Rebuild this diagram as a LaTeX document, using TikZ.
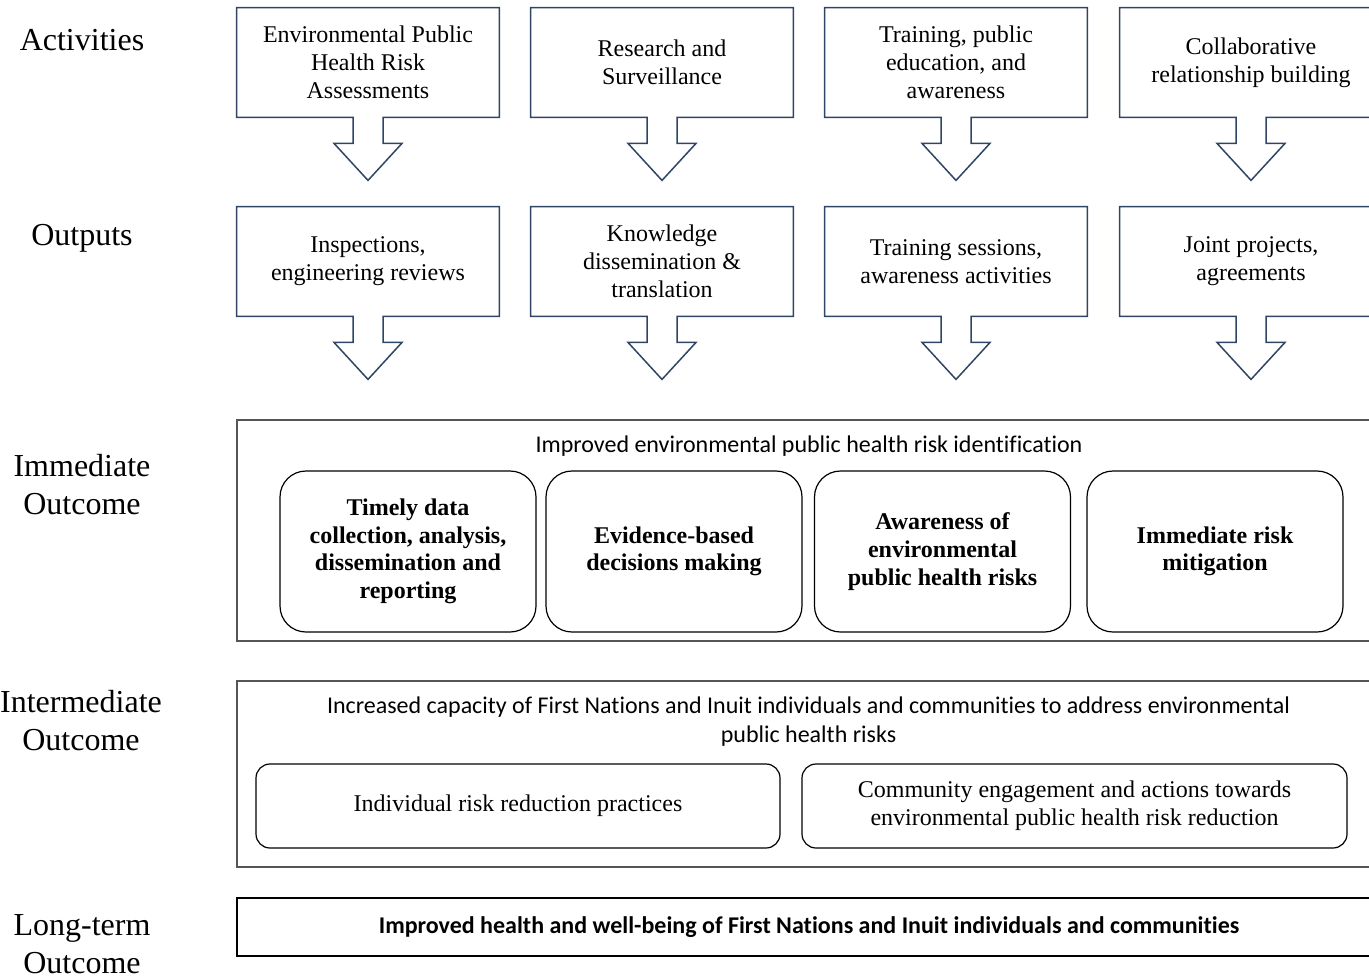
\documentclass[tikz,border=0pt]{standalone}
\usepackage{fontspec}
\setmainfont{Liberation Serif}
\newfontfamily\calibri[Ligatures=NoCommon]{Carlito}
\usetikzlibrary{calc}

\definecolor{calloutblue}{RGB}{47,69,101}
\definecolor{framegrey}{RGB}{85,85,85}

\tikzset{
  lbl/.style={align=center, font=\fontsize{16}{19}\selectfont},
  actbox/.style={minimum width=131pt, minimum height=54.5pt, inner sep=0pt,
    align=center, font=\fontsize{12}{14}\selectfont},
  callout/.style={draw=calloutblue, line width=0.75pt, line join=miter},
  frame/.style={draw=framegrey, line width=0.75pt},
  ftitle/.style={align=center, font=\calibri\fontsize{12}{14.5}\selectfont},
  immbox/.style={draw, line width=0.6pt, rounded corners=13pt, minimum width=128pt,
    minimum height=80.5pt, inner sep=0pt, align=center,
    font=\fontsize{12}{13.8}\selectfont\bfseries},
  intbox/.style={draw, line width=0.6pt, rounded corners=7pt, minimum height=42pt,
    inner sep=0pt, align=center, font=\fontsize{12}{14}\selectfont}
}

\begin{document}
\begin{tikzpicture}[x=0.5pt, y=-0.5pt]
        \useasboundingbox (0,0) rectangle (1369,975);
        \clip (0,0) rectangle (1369,975);

        % row labels
        \node[lbl] (lact) at (82,40) {Activities};
        \node[lbl] (lout) at (82,238) {Outputs};
        \node[lbl] (limm) at (82,485) {Immediate\\Outcome};
        \node[lbl] (lint) at (81,721) {Intermediate\\Outcome};
        \node[lbl] (llt) at (82,944.5) {Long-term\\Outcome};

        % activities
        \node[actbox] (a1) at (368,62.5) {Environmental Public\\Health Risk\\Assessments};
        \node[actbox] (a2) at (662,62.5) {Research and\\Surveillance};
        \node[actbox] (a3) at (956,62.5) {Training, public\\education, and\\awareness};
        \node[actbox] (a4) at (1251,62.5) {Collaborative\\relationship building};

        % outputs
        \node[actbox] (o1) at (368,261.5) {Inspections,\\engineering reviews};
        \node[actbox] (o2) at (662,261.5) {Knowledge\\dissemination \&\\translation};
        \node[actbox] (o3) at (956,261.5) {Training sessions,\\awareness activities};
        \node[actbox] (o4) at (1251,261.5) {Joint projects,\\agreements};

        \foreach \n in {a1,a2,a3,a4,o1,o2,o3,o4}
          \draw[callout] (\n.south west) -- (\n.north west) -- (\n.north east)
            -- (\n.south east) -- ($(\n.south)+(15,0)$) -- ++(0,26) -- ++(19,0)
            -- ($(\n.south)+(0,63)$) -- ($(\n.south)+(-34,26)$) -- ++(19,0)
            -- ($(\n.south)+(-15,0)$) -- cycle;

        % immediate outcome
        \draw[frame] (237,420) rectangle (1381,641);
        \node[ftitle] (timm) at (809,446) {Improved environmental public health risk identification};
        \node[immbox] (i1) at (408,551.5) {Timely data\\collection, analysis,\\dissemination and\\reporting};
        \node[immbox] (i2) at (674,551.5) {Evidence-based\\decisions making};
        \node[immbox] (i3) at (942.5,551.5) {Awareness of\\environmental\\public health risks};
        \node[immbox] (i4) at (1215,551.5) {Immediate risk\\mitigation};

        % intermediate outcome
        \draw[frame] (237,681) rectangle (1381,867);
        \node[ftitle] (tint) at (808.5,722) {Increased capacity of First Nations and Inuit individuals and communities to address environmental\\public health risks};
        \node[intbox, minimum width=262pt] (m1) at (518,806) {Individual risk reduction practices};
        \node[intbox, minimum width=272.5pt] (m2) at (1074.5,806) {Community engagement and actions towards\\environmental public health risk reduction};

        % long-term outcome
        \node[draw, line width=0.75pt, minimum width=572pt, minimum height=29pt,
          font=\calibri\fontsize{12}{14}\selectfont\bfseries] (lt) at (809,927)
          {Improved health and well-being of First Nations and Inuit individuals and communities};
    \end{tikzpicture}
\end{document}
